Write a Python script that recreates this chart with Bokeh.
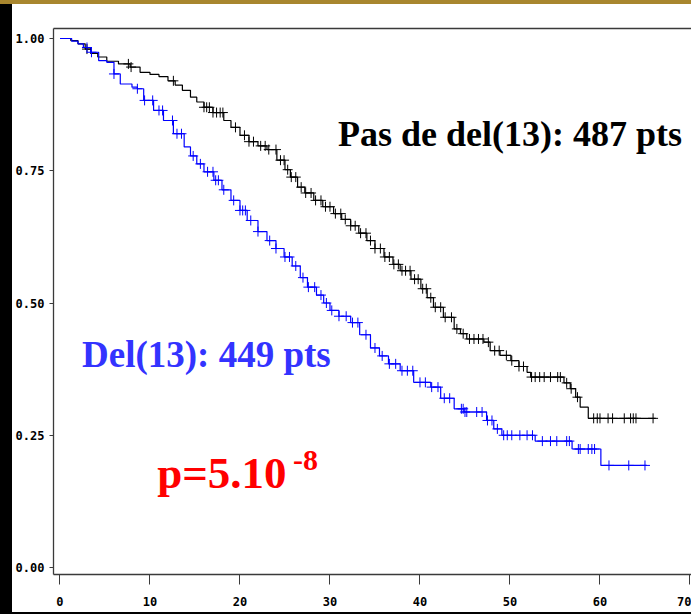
import numpy as np
from bokeh.plotting import figure
from bokeh.models import FixedTicker, PrintfTickFormatter, LinearAxis, Label, Div
from bokeh.layouts import column, row
from bokeh.embed import file_html
from bokeh.resources import INLINE

# ---- data ----
# No del(13): Kaplan-Meier steps (months, survival)
nodel_t = [0, 1.2, 2.0, 2.8, 3.4, 4.2, 5.2, 6.5, 7.8, 8.9, 10.0, 11.0, 12.0, 12.8, 13.6,
           14.5, 15.2, 16.0, 17.0, 18.2, 19.0, 20.0, 21.0, 22.0, 23.0, 24.1, 25.0, 25.6,
           26.4, 27.2, 28.2, 29.2, 30.4, 31.3, 32.3, 33.2, 34.1, 35.0, 36.0, 37.0, 37.8,
           39.0, 40.1, 40.8, 41.5, 42.6, 43.8, 44.5, 45.2, 47.1, 47.8, 48.9, 50.1, 51.0,
           51.9, 52.3, 56.0, 56.7, 57.3, 57.8, 58.7, 66.2]
nodel_s = [1.0, 0.996, 0.99, 0.98, 0.972, 0.965, 0.957, 0.952, 0.946, 0.936, 0.932, 0.928,
           0.92, 0.912, 0.902, 0.889, 0.88, 0.87, 0.86, 0.845, 0.832, 0.817, 0.805, 0.797,
           0.79, 0.77, 0.752, 0.738, 0.719, 0.708, 0.694, 0.682, 0.669, 0.658, 0.646,
           0.632, 0.618, 0.603, 0.587, 0.573, 0.561, 0.545, 0.527, 0.51, 0.492, 0.473,
           0.451, 0.442, 0.432, 0.426, 0.41, 0.401, 0.391, 0.38, 0.369, 0.36, 0.349,
           0.338, 0.322, 0.303, 0.282, 0.282]
nodel_cens = [3.0, 7.6, 7.9, 12.6, 16.0, 16.3, 16.6, 17.0, 17.4, 17.8, 18.1, 19.5, 20.5,
              21.0, 21.5, 22.3, 22.8, 23.2, 24.0, 24.5, 24.9, 25.3, 25.7, 26.2, 26.8, 27.3,
              27.9, 28.4, 29.0, 29.5, 30.0, 30.6, 31.2, 31.7, 32.3, 32.8, 33.4, 34.0, 34.5,
              35.0, 35.6, 36.1, 36.6, 37.1, 37.6, 38.0, 38.4, 38.9, 39.4, 39.8, 40.3, 40.7,
              41.2, 41.7, 42.3, 42.8, 43.5, 44.1, 44.8, 45.5, 46.0, 46.5, 47.0, 47.6, 48.3,
              48.8, 49.6, 50.2, 51.0, 51.5, 52.4, 52.8, 53.3, 53.8, 54.5, 55.3, 55.6, 56.3,
              56.8, 57.5, 59.3, 59.7, 60.0, 60.9, 61.4, 62.7, 63.4, 63.7, 64.0, 65.9]

# Del(13): Kaplan-Meier steps
del_t = [0, 1.3, 2.0, 2.6, 3.4, 4.3, 5.2, 6.0, 6.7, 8.0, 8.6, 9.3, 10.4, 11.5, 12.6, 13.8,
         14.5, 15.2, 16.0, 17.1, 18.0, 19.0, 20.0, 20.8, 22.0, 23.0, 24.0, 24.9, 25.8, 26.7,
         27.5, 28.5, 29.3, 30.0, 31.0, 32.3, 33.3, 34.5, 35.5, 36.5, 37.8, 39.3, 41.2, 42.3,
         43.8, 44.9, 47.4, 48.2, 49.1, 52.8, 56.9, 60.1, 65.2]
del_s = [1.0, 0.995, 0.99, 0.983, 0.974, 0.958, 0.955, 0.933, 0.914, 0.908, 0.905, 0.883,
         0.864, 0.845, 0.82, 0.795, 0.778, 0.763, 0.748, 0.732, 0.714, 0.694, 0.675, 0.656,
         0.635, 0.618, 0.603, 0.587, 0.57, 0.548, 0.53, 0.515, 0.5, 0.486, 0.475, 0.463,
         0.44, 0.415, 0.4, 0.385, 0.372, 0.35, 0.341, 0.32, 0.3, 0.294, 0.278, 0.262, 0.25,
         0.239, 0.224, 0.193, 0.193]
del_cens = [3.0, 3.5, 6.0, 8.6, 9.4, 10.3, 11.0, 11.4, 12.5, 13.0, 13.5, 14.8, 15.6, 16.4,
            17.0, 17.3, 17.6, 18.2, 19.3, 20.0, 20.3, 20.6, 21.2, 22.0, 23.3, 24.0, 25.0,
            25.5, 26.2, 27.0, 27.6, 28.3, 29.0, 29.6, 30.2, 31.0, 31.8, 32.5, 33.1, 34.0,
            35.0, 35.8, 36.6, 37.3, 38.0, 38.6, 39.2, 40.0, 40.6, 41.3, 42.0, 42.7, 43.3,
            44.6, 44.8, 45.0, 45.2, 46.3, 46.9, 47.5, 48.0, 48.6, 49.3, 49.7, 50.2, 51.1,
            51.9, 52.5, 53.6, 54.5, 55.2, 56.3, 56.6, 57.6, 57.8, 58.7, 59.1, 59.4, 61.0,
            63.2, 65.0]

x_ticks = [0, 10, 20, 30, 40, 50, 60, 70]
y_ticks = [0.0, 0.25, 0.5, 0.75, 1.0]

label_nodel = "Pas de del(13): 487 pts"
label_del = "Del(13): 449 pts"
label_p = "p=5.10"
label_p_exp = "-8"


def km_at(times, surv, pts):
    idx = np.searchsorted(np.array(times), np.array(pts), side="right") - 1
    return [surv[i] for i in idx]


p = figure(width=679, height=608, x_range=(-0.72, 70.17), y_range=(-0.0132, 1.0189),
           output_backend="svg", toolbar_location=None, margin=0,
           min_border_left=41, min_border_right=0, min_border_top=24, min_border_bottom=38)
p.outline_line_color = None
p.background_fill_color = "white"
p.border_fill_color = "white"
p.xgrid.visible = False
p.ygrid.visible = False

axis_col = "#3a3a3a"
for ax in (p.xaxis[0], p.yaxis[0]):
    ax.axis_line_color = axis_col
    ax.axis_line_width = 1.3
    ax.major_tick_line_color = axis_col
    ax.minor_tick_line_color = None
    ax.major_tick_in = 0
    ax.major_label_text_font = "DejaVu Sans Mono"
    ax.major_label_text_font_style = "bold"
    ax.major_label_text_font_size = "12px"
    ax.major_label_text_color = "black"

p.xaxis.ticker = FixedTicker(ticks=x_ticks)
p.xaxis.major_tick_out = 10
p.xaxis.major_label_standoff = 12
p.yaxis.ticker = FixedTicker(ticks=y_ticks)
p.yaxis.formatter = PrintfTickFormatter(format="%.2f")
p.yaxis.major_tick_out = 4
p.yaxis.major_label_standoff = 5

top_axis = LinearAxis(ticker=FixedTicker(ticks=[]), axis_line_color=axis_col,
                      axis_line_width=1.5, major_tick_line_color=None,
                      minor_tick_line_color=None, major_label_standoff=0,
                      major_tick_out=0, major_tick_in=0)
p.add_layout(top_axis, "above")

# curves
p.step(nodel_t, nodel_s, mode="after", line_color="black", line_width=1.2)
p.step(del_t, del_s, mode="after", line_color="#0000ff", line_width=1.2)

p.scatter(nodel_cens, km_at(nodel_t, nodel_s, nodel_cens), marker="cross", size=10,
          line_color="black", line_width=1, fill_color=None)
p.scatter(del_cens, km_at(del_t, del_s, del_cens), marker="cross", size=10,
          line_color="#0000ff", line_width=1, fill_color=None)

# texts
p.add_layout(Label(x=30.9, y=0.82, text=label_nodel, text_font="Liberation Serif",
                   text_font_style="bold", text_font_size="36px", text_color="black",
                   text_baseline="alphabetic"))
p.add_layout(Label(x=2.45, y=0.402, text=label_del, text_font="Liberation Serif",
                   text_font_style="bold", text_font_size="37px", text_color="#3333ff",
                   text_baseline="alphabetic"))
p.add_layout(Label(x=10.8, y=0.178, text=label_p, text_font="Liberation Serif",
                   text_font_style="bold", text_font_size="45px", text_color="#ff0000",
                   text_baseline="alphabetic"))
p.add_layout(Label(x=25.9, y=0.202, text=label_p_exp, text_font="Liberation Serif",
                   text_font_style="bold", text_font_size="30px", text_color="#ff0000",
                   text_baseline="alphabetic"))

# slide decorations around the chart
gold_bar = Div(text="", width=691, height=4, margin=0,
               styles={"background-color": "#a8862e"})
left_strip = Div(text="", width=12, height=608, margin=0,
                 styles={"background-color": "black"})
bottom_bar = Div(text="", width=691, height=2, margin=0,
                 styles={"background-color": "black"})

page = column(gold_bar, row(left_strip, p, spacing=0, margin=0), bottom_bar,
              spacing=0, margin=0)

open("out.html", "w").write(file_html(page, INLINE))
